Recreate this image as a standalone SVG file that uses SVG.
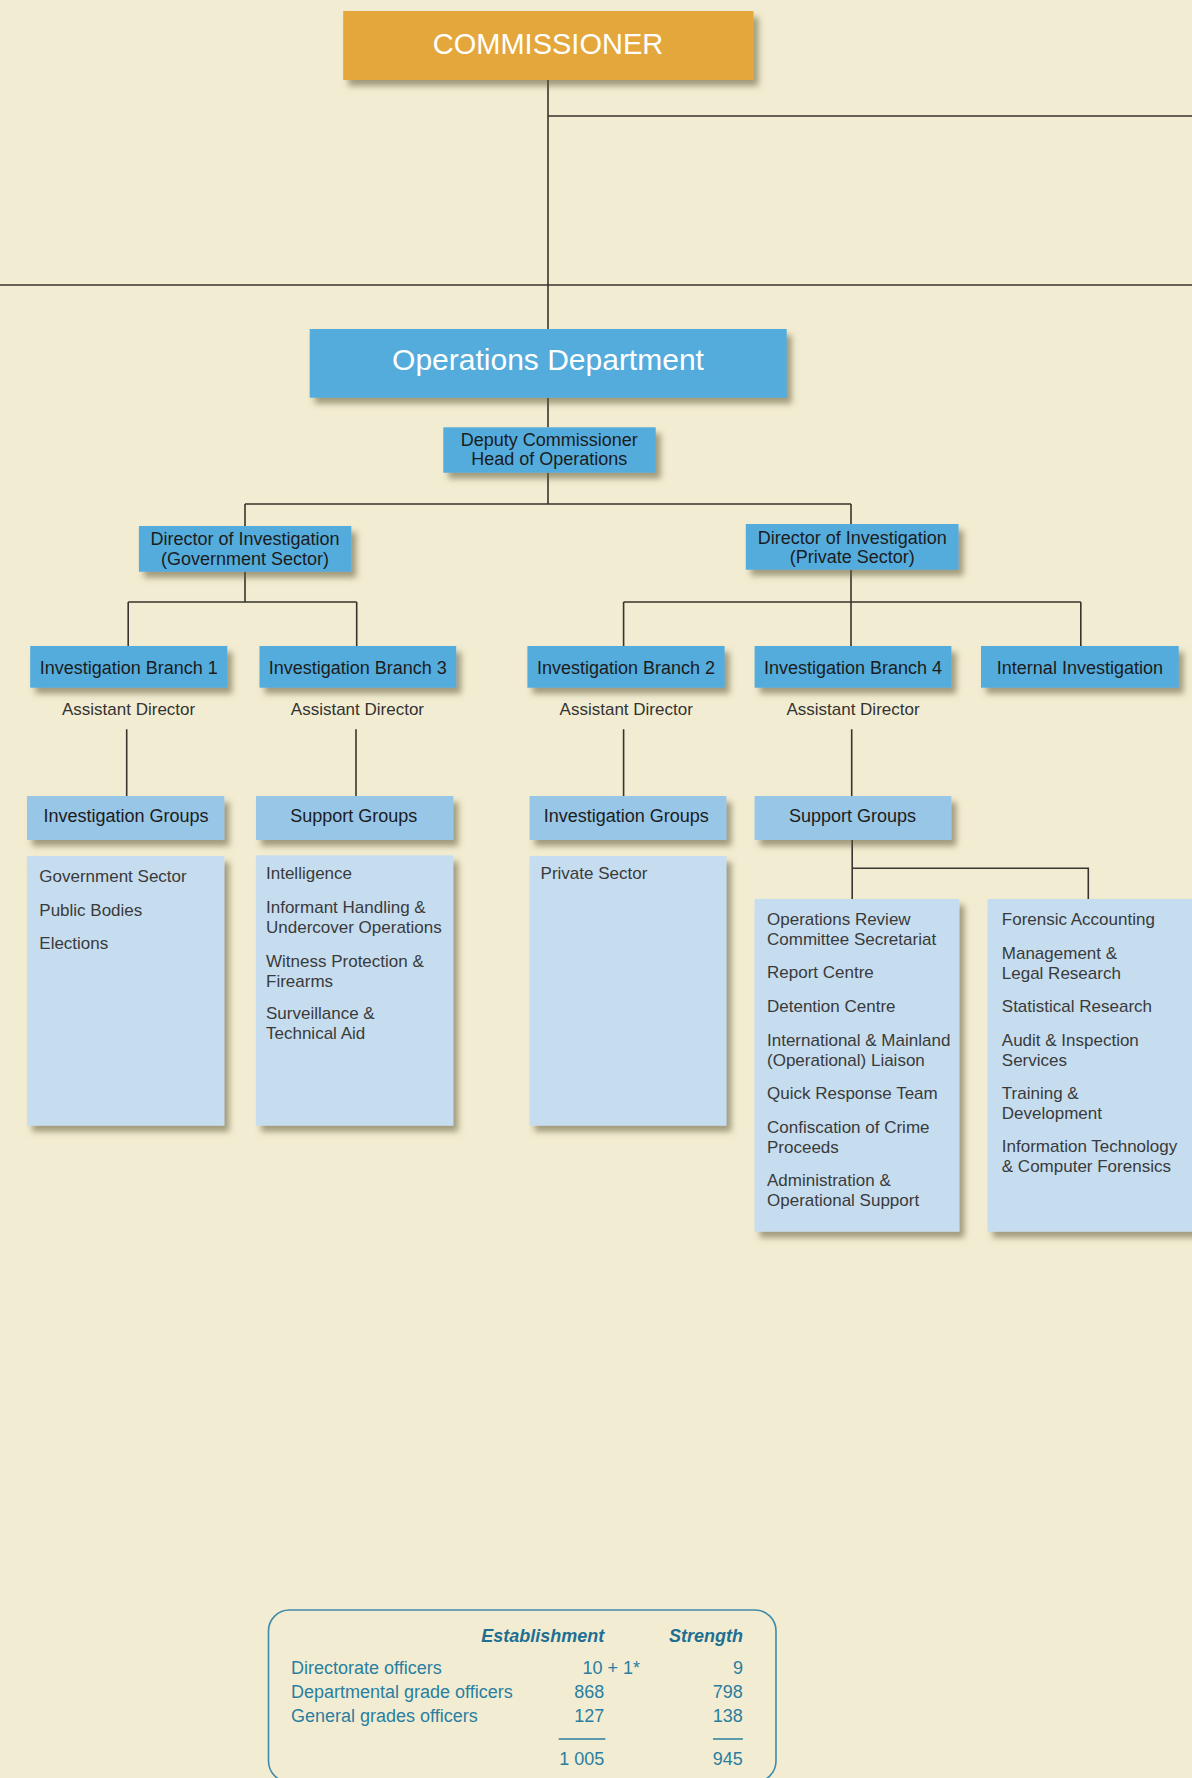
<svg xmlns="http://www.w3.org/2000/svg" width="1192" height="1778" viewBox="0 0 1192 1778">
  <defs>
    <filter id="drop" x="-10%" y="-10%" width="130%" height="140%">
      <feDropShadow dx="5" dy="6" stdDeviation="3" flood-color="#5e5535" flood-opacity="0.55"/>
    </filter>
  </defs>
  <style>
    text { font-family: "Liberation Sans", Arial, Helvetica, sans-serif; }
    .link { stroke: #37352d; stroke-width: 1.6; fill: none; }
    .gold { fill: #e4a73a; filter: url(#drop); }
    .blue { fill: #52acdc; filter: url(#drop); }
    .head { fill: #98c6e7; filter: url(#drop); }
    .list { fill: #c6ddf0; filter: url(#drop); }
    .big { fill: #ffffff; text-anchor: middle; }
    .lbl { fill: #1c1c1c; font-size: 18px; text-anchor: middle; }
    .sub { fill: #333333; font-size: 17px; text-anchor: middle; }
    .item { fill: #3a3a3a; font-size: 17px; }
    .tbl { fill: #2a7ea0; font-size: 18px; }
    .num { fill: #2a7ea0; font-size: 18px; text-anchor: end; }
    .th { fill: #1f6f92; font-size: 18px; font-weight: bold; font-style: italic; text-anchor: end; }
  </style>

  <rect width="1192" height="1778" fill="#f2edd2"/>

  <!-- reporting lines -->
  <g id="connectors">
    <path class="link" d="M548 80 V329 M548 116 H1192 M0 285 H1192"/>
    <path class="link" d="M548 397.7 V427.3 M548 472.7 V504 M245 504 H851 M245 504 V526 M851 504 V524"/>
    <path class="link" d="M245 571.7 V602 M128.2 602 H356.7 M128.2 602 V646 M356.7 602 V646"/>
    <path class="link" d="M851 569.7 V646 M623.6 602 H1080.8 M623.6 602 V646 M1080.8 602 V646"/>
    <path class="link" d="M126.7 729.3 V796 M356 729.3 V796 M623.6 729.3 V796 M851.7 729.3 V796"/>
    <path class="link" d="M852.2 840 V899 M852.2 868.3 H1088.3 V899"/>
  </g>

  <g id="commissioner">
    <rect class="gold" x="343.2" y="11" width="410.3" height="69"/>
    <text class="big" x="548" y="53.5" font-size="29">COMMISSIONER</text>
  </g>

  <g id="operations-department">
    <rect class="blue" x="309.7" y="329" width="477" height="68.7"/>
    <text class="big" x="548" y="369.5" font-size="30">Operations Department</text>
  </g>

  <g id="deputy-commissioner">
    <rect class="blue" x="443.3" y="427.3" width="212.4" height="45.4"/>
    <text class="lbl" x="549.3" y="445.7" font-size="17.5">Deputy Commissioner</text>
    <text class="lbl" x="549.3" y="465.3" font-size="17.5">Head of Operations</text>
  </g>

  <g id="director-government">
    <rect class="blue" x="138.9" y="526" width="212.4" height="45.7"/>
    <text class="lbl" x="245" y="545">Director of Investigation</text>
    <text class="lbl" x="245" y="565">(Government Sector)</text>
  </g>

  <g id="director-private">
    <rect class="blue" x="745.8" y="524" width="212.7" height="45.7"/>
    <text class="lbl" x="852.2" y="544">Director of Investigation</text>
    <text class="lbl" x="852.2" y="563.3">(Private Sector)</text>
  </g>

  <g id="branch-1">
    <rect class="blue" x="30.2" y="646" width="197.1" height="41.7"/>
    <text class="lbl" x="128.7" y="674">Investigation Branch 1</text>
    <text class="sub" x="128.6" y="715">Assistant Director</text>
  </g>

  <g id="branch-3">
    <rect class="blue" x="259.5" y="646" width="196.7" height="41.7"/>
    <text class="lbl" x="357.8" y="674">Investigation Branch 3</text>
    <text class="sub" x="357.4" y="715">Assistant Director</text>
  </g>

  <g id="branch-2">
    <rect class="blue" x="527.4" y="646" width="197.2" height="41.7"/>
    <text class="lbl" x="626" y="674">Investigation Branch 2</text>
    <text class="sub" x="626.2" y="715">Assistant Director</text>
  </g>

  <g id="branch-4">
    <rect class="blue" x="754.6" y="646" width="196.8" height="41.7"/>
    <text class="lbl" x="853" y="674">Investigation Branch 4</text>
    <text class="sub" x="853" y="715">Assistant Director</text>
  </g>

  <g id="internal-investigation">
    <rect class="blue" x="981" y="646" width="197.7" height="41.7"/>
    <text class="lbl" x="1079.9" y="674">Internal Investigation</text>
  </g>

  <g id="branch-1-groups">
    <rect class="head" x="27" y="796" width="197.3" height="44"/>
    <text class="lbl" x="126" y="821.7">Investigation Groups</text>
    <rect class="list" x="27" y="856" width="197.3" height="269.7"/>
    <text class="item" x="39.3" y="881.7">Government Sector</text>
    <text class="item" x="39.3" y="915.7">Public Bodies</text>
    <text class="item" x="39.3" y="949.3">Elections</text>
  </g>

  <g id="branch-3-groups">
    <rect class="head" x="256" y="796" width="197.3" height="44"/>
    <text class="lbl" x="353.7" y="821.7">Support Groups</text>
    <rect class="list" x="256" y="855.3" width="197.3" height="270.4"/>
    <text class="item" x="266" y="879">Intelligence</text>
    <text class="item" x="266" y="913.3">Informant Handling &amp;</text>
    <text class="item" x="266" y="932.7">Undercover Operations</text>
    <text class="item" x="266" y="967.3">Witness Protection &amp;</text>
    <text class="item" x="266" y="986.7">Firearms</text>
    <text class="item" x="266" y="1019.3">Surveillance &amp;</text>
    <text class="item" x="266" y="1039.3">Technical Aid</text>
  </g>

  <g id="branch-2-groups">
    <rect class="head" x="529.6" y="796" width="196.8" height="44"/>
    <text class="lbl" x="626.2" y="821.7">Investigation Groups</text>
    <rect class="list" x="529.6" y="856" width="196.8" height="269.7"/>
    <text class="item" x="540.6" y="879.3">Private Sector</text>
  </g>

  <g id="branch-4-groups">
    <rect class="head" x="754.6" y="796" width="196.8" height="44"/>
    <text class="lbl" x="852.6" y="821.7">Support Groups</text>
  </g>

  <g id="branch-4-support-a">
    <rect class="list" x="754.6" y="899" width="204.8" height="332.7"/>
    <text class="item" x="767" y="925">Operations Review</text>
    <text class="item" x="767" y="945">Committee Secretariat</text>
    <text class="item" x="767" y="978.3">Report Centre</text>
    <text class="item" x="767" y="1011.7">Detention Centre</text>
    <text class="item" x="767" y="1045.7">International &amp; Mainland</text>
    <text class="item" x="767" y="1065.7">(Operational) Liaison</text>
    <text class="item" x="767" y="1099">Quick Response Team</text>
    <text class="item" x="767" y="1132.7">Confiscation of Crime</text>
    <text class="item" x="767" y="1152.7">Proceeds</text>
    <text class="item" x="767" y="1185.7">Administration &amp;</text>
    <text class="item" x="767" y="1205.7">Operational Support</text>
  </g>

  <g id="branch-4-support-b">
    <rect class="list" x="987.6" y="899" width="215" height="332.7"/>
    <text class="item" x="1001.8" y="925">Forensic Accounting</text>
    <text class="item" x="1001.8" y="959">Management &amp;</text>
    <text class="item" x="1001.8" y="979">Legal Research</text>
    <text class="item" x="1001.8" y="1011.7">Statistical Research</text>
    <text class="item" x="1001.8" y="1045.7">Audit &amp; Inspection</text>
    <text class="item" x="1001.8" y="1065.7">Services</text>
    <text class="item" x="1001.8" y="1099">Training &amp;</text>
    <text class="item" x="1001.8" y="1119">Development</text>
    <text class="item" x="1001.8" y="1152.3">Information Technology</text>
    <text class="item" x="1001.8" y="1172.3">&amp; Computer Forensics</text>
  </g>

  <!-- staffing table -->
  <g id="staff-table">
    <rect x="268.5" y="1610" width="507.5" height="172" rx="21" ry="21" fill="none" stroke="#3f8aab" stroke-width="1.6"/>
    <text class="th" x="604.3" y="1642.3">Establishment</text>
    <text class="th" x="742.9" y="1642.3">Strength</text>
    <text class="tbl" x="291" y="1674.3">Directorate officers</text>
    <text class="tbl" x="291" y="1698.3">Departmental grade officers</text>
    <text class="tbl" x="291" y="1721.7">General grades officers</text>
    <text class="num" x="640" y="1674.3">10 + 1*</text>
    <text class="num" x="604.3" y="1698.3">868</text>
    <text class="num" x="604.3" y="1721.7">127</text>
    <text class="num" x="742.9" y="1674.3">9</text>
    <text class="num" x="742.9" y="1698.3">798</text>
    <text class="num" x="742.9" y="1721.7">138</text>
    <path d="M558.7 1739 H605.4 M713 1739 H742.9" stroke="#2a7ea0" stroke-width="1.6"/>
    <text class="num" x="604.3" y="1765">1 005</text>
    <text class="num" x="742.9" y="1765">945</text>
  </g>
</svg>
